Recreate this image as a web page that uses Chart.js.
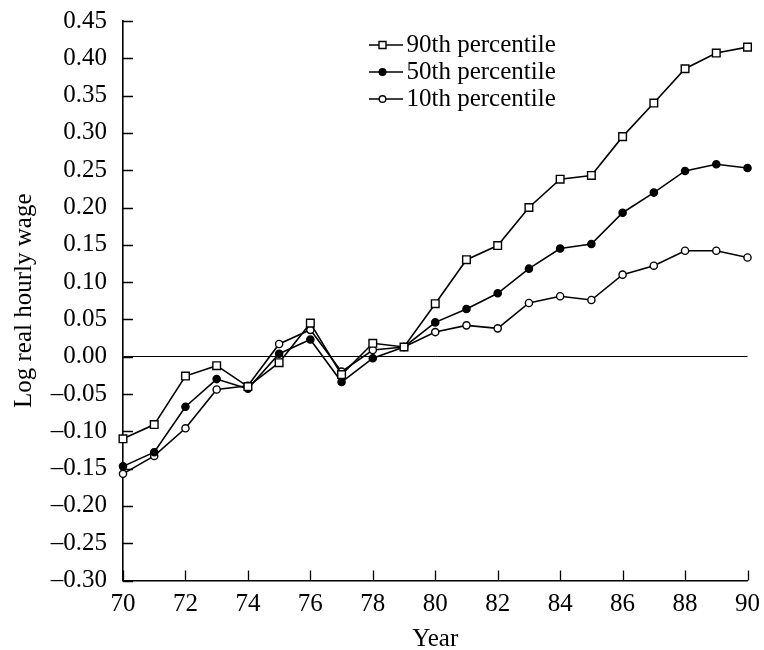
<!DOCTYPE html>
<html>
<head>
    <meta charset="utf-8">
    <title>Log real hourly wage by percentile</title>
    <script src="https://cdn.jsdelivr.net/npm/chart.js"></script>
    <style>
        body { margin: 0; background: #fff; }
    </style>
</head>
<body>
<canvas id="wageChart" width="764" height="650"></canvas>

<script>
    // values
    const years = [70, 71, 72, 73, 74, 75, 76, 77, 78, 79, 80, 81, 82, 83, 84, 85, 86, 87, 88, 89, 90];
    const p90 = [-0.110, -0.091, -0.026, -0.012, -0.040, -0.008, 0.045, -0.024, 0.018, 0.013, 0.071,
                 0.130, 0.149, 0.200, 0.238, 0.243, 0.295, 0.340, 0.386, 0.407, 0.415];
    const p50 = [-0.147, -0.128, -0.067, -0.030, -0.043, 0.004, 0.023, -0.034, -0.002, 0.013, 0.046,
                 0.064, 0.085, 0.118, 0.145, 0.151, 0.193, 0.220, 0.249, 0.258, 0.253];
    const p10 = [-0.157, -0.133, -0.096, -0.044, -0.039, 0.017, 0.036, -0.020, 0.009, 0.013, 0.033,
                 0.042, 0.038, 0.072, 0.081, 0.076, 0.110, 0.122, 0.142, 0.142, 0.133];
    const seriesNames = ['90th percentile', '50th percentile', '10th percentile'];

    Chart.defaults.font.family = "'Liberation Serif', 'Times New Roman', serif";
    Chart.defaults.font.size = 25;
    Chart.defaults.color = '#000';

    const pts = vals => years.map((y, i) => ({ x: y, y: vals[i] }));

    // little "line + marker" pictures for the legend
    function legendIcon(kind) {
        const c = document.createElement('canvas');
        c.width = 41; c.height = 12;
        const g = c.getContext('2d');
        g.strokeStyle = '#000';
        g.lineWidth = 1.6;
        g.beginPath(); g.moveTo(0, 6); g.lineTo(41, 6); g.stroke();
        g.lineWidth = 1.4;
        g.fillStyle = kind === 'dot' ? '#000' : '#fff';
        g.beginPath();
        if (kind === 'square') g.rect(17, 2.5, 7, 7);
        else g.arc(20.5, 6, 3.3, 0, Math.PI * 2);
        g.fill(); g.stroke();
        return c;
    }
    const icons = [legendIcon('square'), legendIcon('dot'), legendIcon('ring')];

    // put the legend inside the plot, upper middle
    const legendSpot = {
        id: 'legendSpot',
        afterLayout(chart) {
            const lg = chart.legend;
            const w = lg.width, h = lg.height;
            lg.left = 369; lg.right = lg.left + w;
            lg.top = 30.5; lg.bottom = lg.top + h;
        }
    };

    // tick marks pointing into the plot, at the scales' own tick values
    const inwardTicks = {
        id: 'inwardTicks',
        afterDraw(chart) {
            const { ctx, chartArea: a, scales: { x, y } } = chart;
            ctx.save();
            ctx.strokeStyle = '#000';
            ctx.lineWidth = 1.3;
            ctx.beginPath();
            x.ticks.forEach(t => {
                const px = Math.round(x.getPixelForValue(t.value)) + 0.5;
                ctx.moveTo(px, a.bottom); ctx.lineTo(px, a.bottom - 10);
            });
            y.ticks.forEach(t => {
                const py = Math.round(y.getPixelForValue(t.value)) + 0.5;
                ctx.moveTo(a.left, py); ctx.lineTo(a.left + 10, py);
            });
            ctx.stroke();
            ctx.restore();
        }
    };

    const lineStyle = {
        borderColor: '#000',
        borderWidth: 1.6,
        tension: 0,
        pointBorderColor: '#000',
        pointBorderWidth: 1.4,
        clip: false
    };

    new Chart(document.getElementById('wageChart'), {
        type: 'line',
        data: {
            datasets: [
                Object.assign({ label: seriesNames[0], data: pts(p90), pointStyle: 'rect',
                    pointRadius: 5.4, pointBackgroundColor: '#fff' }, lineStyle),
                Object.assign({ label: seriesNames[1], data: pts(p50), pointStyle: 'circle',
                    pointRadius: 3.6, pointBackgroundColor: '#000' }, lineStyle),
                Object.assign({ label: seriesNames[2], data: pts(p10), pointStyle: 'circle',
                    pointRadius: 3.6, pointBackgroundColor: '#fff' }, lineStyle)
            ]
        },
        options: {
            responsive: false,
            animation: false,
            layout: { padding: { top: 21, right: 16.5, bottom: 0, left: 0 } },
            plugins: {
                tooltip: { enabled: false },
                legend: {
                    position: 'chartArea',
                    align: 'start',
                    labels: {
                        usePointStyle: true,
                        pointStyleWidth: 23,
                        padding: 2,
                        color: '#000',
                        generateLabels(chart) {
                            const items = Chart.defaults.plugins.legend.labels.generateLabels(chart);
                            items.forEach((it, i) => { it.pointStyle = icons[i]; });
                            return items;
                        }
                    }
                }
            },
            scales: {
                x: {
                    type: 'linear',
                    min: 70,
                    max: 90,
                    afterFit(scale) {
                        scale.height = 69.5;
                        scale.paddingLeft = 0;
                        scale.paddingRight = 0;
                    },
                    ticks: { stepSize: 2, padding: 9, maxRotation: 0 },
                    grid: { drawOnChartArea: false, drawTicks: false },
                    border: { color: '#000', width: 1.6 },
                    title: { display: true, text: 'Year', font: { size: 25, lineHeight: 1 },
                             padding: { top: 0, bottom: -2 } }
                },
                y: {
                    min: -0.30,
                    max: 0.45,
                    afterFit(scale) {
                        scale.width = 123;
                        scale.paddingTop = 0;
                        scale.paddingBottom = 0;
                    },
                    ticks: {
                        stepSize: 0.05,
                        padding: 16,
                        callback: v => (Math.abs(v) < 1e-9 ? 0 : v).toFixed(2).replace('-', '\u2013')
                    },
                    grid: {
                        drawOnChartArea: true,
                        drawTicks: false,
                        color: c => (c.tick && Math.abs(c.tick.value) < 1e-9) ? '#000' : 'rgba(0,0,0,0)',
                        lineWidth: 1
                    },
                    border: { color: '#000', width: 1.6 },
                    title: { display: true, text: 'Log real hourly wage', font: { size: 25, lineHeight: 1 },
                             padding: { top: 12, bottom: 14 } }
                }
            }
        },
        plugins: [legendSpot, inwardTicks]
    });
</script>

</body>
</html>
